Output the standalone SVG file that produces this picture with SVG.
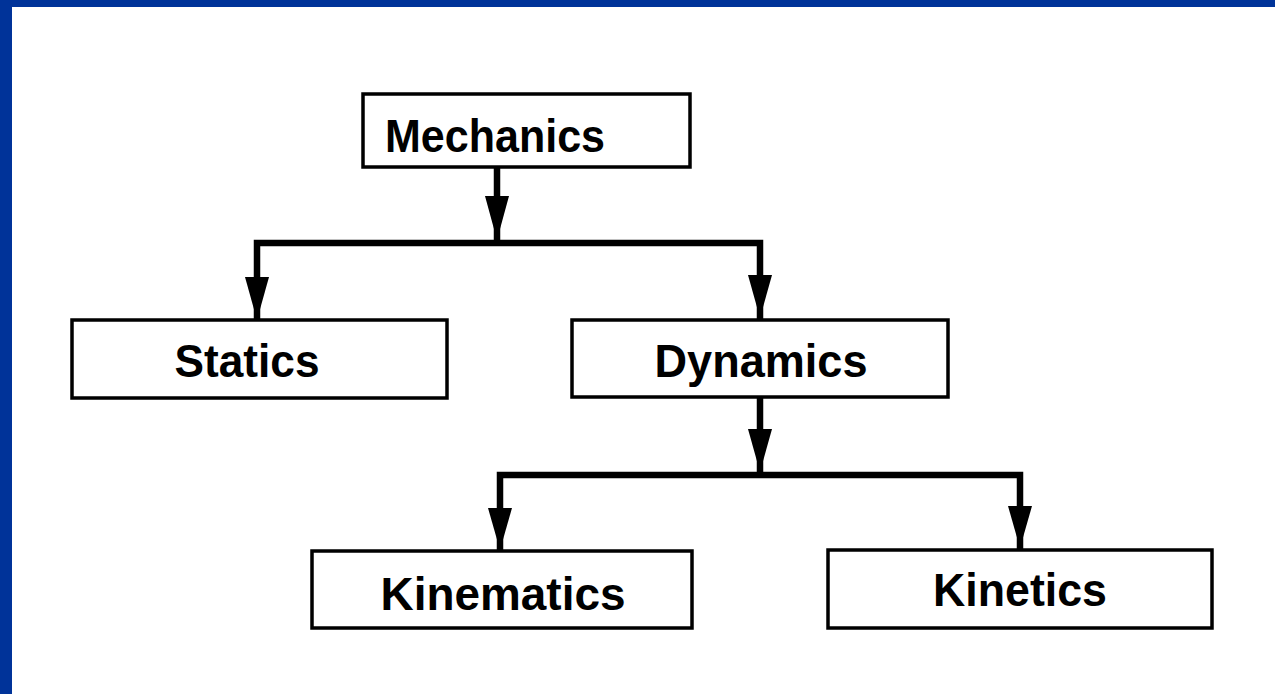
<svg xmlns="http://www.w3.org/2000/svg" width="1275" height="694" viewBox="0 0 1275 694">
<style>
.box{fill:#fff;stroke:#000;stroke-width:3.5}
.lbl{font-family:"Liberation Sans",Arial,sans-serif;font-weight:bold;font-size:47px;fill:#000;text-anchor:middle}
.wire{fill:none;stroke:#000;stroke-width:6.5;stroke-linejoin:miter}
.head{fill:#000}
</style>
<rect x="0" y="0" width="1275" height="694" fill="#fff"/>
<rect x="0" y="0" width="1275" height="7" fill="#003399"/>
<rect x="0" y="0" width="12" height="694" fill="#003399"/>
<g id="connectors">
<path class="wire" d="M497,167 V243"/>
<path class="wire" d="M257,320 V243 H760 V320"/>
<path class="wire" d="M760,397 V475"/>
<path class="wire" d="M500,550 V475 H1020 V550"/>
<polygon class="head" points="485,196 509,196 497,240"/>
<polygon class="head" points="245,277 269,277 257,320"/>
<polygon class="head" points="748,275 772,275 760,318"/>
<polygon class="head" points="748,429 772,429 760,472"/>
<polygon class="head" points="488,508 512,508 500,550"/>
<polygon class="head" points="1008,506 1032,506 1020,548"/>
</g>
<g id="mechanics"><rect class="box" x="363" y="94" width="327" height="73"/><text class="lbl" x="495" y="152" textLength="220" lengthAdjust="spacingAndGlyphs">Mechanics</text></g>
<g id="statics"><rect class="box" x="72" y="320" width="375" height="78"/><text class="lbl" x="247" y="377" textLength="145" lengthAdjust="spacingAndGlyphs">Statics</text></g>
<g id="dynamics"><rect class="box" x="572" y="320" width="376" height="77"/><text class="lbl" x="761" y="377" textLength="213" lengthAdjust="spacingAndGlyphs">Dynamics</text></g>
<g id="kinematics"><rect class="box" x="312" y="551" width="380" height="77"/><text class="lbl" x="503" y="610" textLength="245" lengthAdjust="spacingAndGlyphs">Kinematics</text></g>
<g id="kinetics"><rect class="box" x="828" y="550" width="384" height="78"/><text class="lbl" x="1020" y="606" textLength="174" lengthAdjust="spacingAndGlyphs">Kinetics</text></g>
</svg>
